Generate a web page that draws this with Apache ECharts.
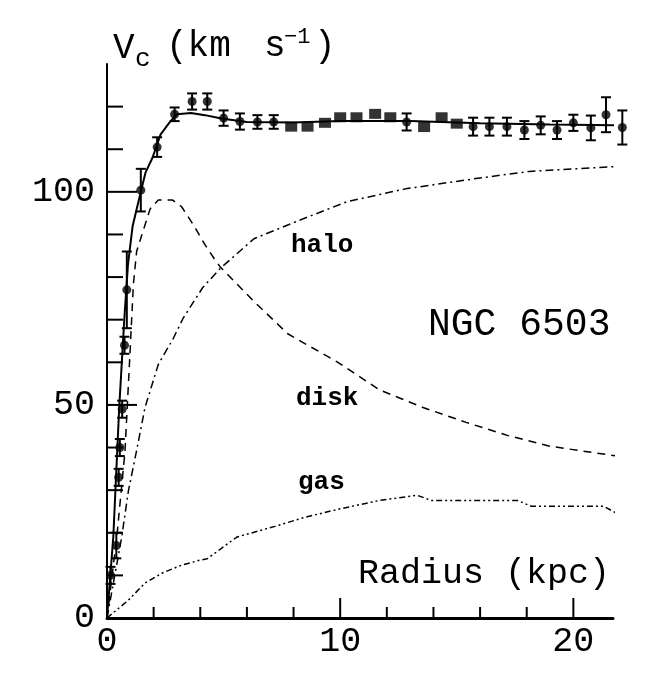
<!DOCTYPE html>
<html>
<head>
<meta charset="utf-8">
<title>NGC 6503 rotation curve</title>
<script src="https://cdn.jsdelivr.net/npm/echarts@6/dist/echarts.min.js"></script>
<style>
  html, body { margin: 0; padding: 0; background: #fff; }
  #main { width: 663px; height: 682px; }
</style>
</head>
<body>
<div id="main"></div>
<script>
// observed rotation velocities (kpc, km/s, error)
var obsX = [0.15, 0.4, 0.5, 0.55, 0.65, 0.75, 0.85, 1.45, 2.15, 2.9, 3.65, 4.3, 5.0, 5.7, 6.45, 7.15,
  7.9, 8.6, 9.35, 10.0, 10.7, 11.5, 12.15, 12.85, 13.6, 14.35, 15.0,
  15.7, 16.4, 17.15, 17.9, 18.6, 19.3, 20.0, 20.75, 21.4, 22.1];
var obsY = [10, 17, 33, 40, 49, 64, 77, 100.4, 110.5, 118.2, 121.2, 121.2, 117.3, 116.5, 116.4, 116.4,
  115.3, 115.3, 116.2, 117.5, 117.5, 118.3, 117.5, 116.4, 115.2, 117.5, 116.0,
  115.3, 115.3, 115.3, 114.5, 115.6, 114.5, 116.2, 115.0, 118.1, 115.1];
var obsErr = [2, 3, 2, 2, 2, 2, 9, 5, 2.3, 1.6, 1.9, 1.9, 1.8, 1.9, 1.6, 1.6,
  0, 0, 0, 0, 0, 0, 0, 2, 0, 0, 0,
  2.1, 2.1, 2.1, 2.1, 2.1, 2.1, 1.9, 2.9, 4.1, 4];

// model curves
var totalX = [0, 0.27, 0.52, 0.74, 0.9, 1.1, 1.45, 1.65, 1.95, 2.3, 2.7, 3.0, 3.6, 4.2, 4.9, 6, 8, 10, 13, 16, 19, 22.1];
var totalY = [0, 19, 49, 70, 83, 92, 100, 104.5, 108, 113.5, 116.4, 118.2, 118.5, 118, 117.2, 116.4, 116.3, 116.6, 116.6, 116.1, 115.8, 115.6];

var haloX = [0, 0.3, 0.63, 0.92, 1.27, 1.63, 2.2, 2.85, 3.27, 4.1, 4.85, 6.3, 8.1, 10.3, 12.8, 15.4, 18.1, 22.05];
var haloY = [0, 9, 19, 29.9, 39.3, 49.4, 59.5, 65.7, 70.4, 77.5, 82, 89, 93, 97.7, 100.7, 102.8, 104.8, 106];

var diskX = [0, 0.42, 0.77, 0.99, 1.13, 1.27, 1.5, 1.85, 2.2, 2.8, 3.2, 3.7, 4.2, 4.6, 4.85, 6.3, 7.75, 9.9, 11.7, 13.55, 15.4, 17.2, 19.0, 22.0];
var diskY = [0, 19, 39, 62.6, 78.2, 86, 90, 96, 98.1, 98.1, 96.5, 92.3, 87.6, 84.3, 82.4, 74.3, 66.7, 60, 53.5, 49.4, 45.9, 42.8, 40.3, 37.9];

var gasX = [0, 0.92, 1.63, 2.35, 3.2, 4.0, 4.3, 5.57, 7.2, 8.47, 9.9, 11.7, 13.3, 13.9, 17.6, 18.2, 21.3, 22.05];
var gasY = [0, 4.2, 8.2, 10.5, 12.4, 13.6, 13.9, 19, 21.5, 23.6, 25.5, 27.6, 28.8, 27.6, 27.6, 26.2, 26.2, 24];

// axis ticks and labels
var xMinorTicks = [2, 4, 6, 8, 12, 14, 16, 18];
var xMajorTicks = [10, 20];
var yMinorTicks = [10, 20, 30, 40, 60, 70, 80, 90, 110, 120];
var yMajorTicks = [50, 100];
var xTickLabels = [0, 10, 20];
var yTickLabels = [0, 50, 100];

var FONT = 'Liberation Mono';

function pairs(xs, ys) {
  return xs.map(function (x, i) { return [x, ys[i]]; });
}

var tickData = [];
xMinorTicks.forEach(function (v) { tickData.push([0, v, 0]); });
xMajorTicks.forEach(function (v) { tickData.push([0, v, 1]); });
yMinorTicks.forEach(function (v) { tickData.push([1, v, 0]); });
yMajorTicks.forEach(function (v) { tickData.push([1, v, 1]); });

var barData = [], dotData = [], squareData = [];
obsX.forEach(function (x, i) {
  if (obsErr[i] > 0) {
    barData.push([x, obsY[i], obsErr[i]]);
    dotData.push([x, obsY[i]]);
  } else {
    squareData.push([x, obsY[i]]);
  }
});

function renderTick(params, api) {
  var dir = api.value(0), v = api.value(1), major = api.value(2);
  if (dir === 0) {
    var p = api.coord([v, 0]);
    var len = major ? 20 : 11;
    return { type: 'line', shape: { x1: p[0], y1: p[1], x2: p[0], y2: p[1] - len },
      style: { stroke: '#000', lineWidth: 2 } };
  }
  var q = api.coord([0, v]);
  var lenY = major ? 30 : 16;
  return { type: 'line', shape: { x1: q[0], y1: q[1], x2: q[0] + lenY, y2: q[1] },
    style: { stroke: '#000', lineWidth: 2 } };
}

function renderBar(params, api) {
  var x = api.value(0), y = api.value(1), e = api.value(2);
  var top = api.coord([x, y + e]);
  var bot = api.coord([x, y - e]);
  var w = 5;
  var st = { stroke: '#000', lineWidth: 2 };
  return { type: 'group', children: [
    { type: 'line', shape: { x1: top[0], y1: top[1], x2: bot[0], y2: bot[1] }, style: st },
    { type: 'line', shape: { x1: top[0] - w, y1: top[1], x2: top[0] + w, y2: top[1] }, style: st },
    { type: 'line', shape: { x1: bot[0] - w, y1: bot[1], x2: bot[0] + w, y2: bot[1] }, style: st }
  ] };
}

function modelLine(name, xs, ys, type, width) {
  return {
    name: name, type: 'line', data: pairs(xs, ys), symbol: 'none', clip: false,
    lineStyle: { color: '#000', width: width, type: type }
  };
}

var chart = echarts.init(document.getElementById('main'), null, { renderer: 'canvas' });

var option = {
  animation: false,
  backgroundColor: '#fff',
  grid: { left: 107, right: 50, top: 64, bottom: 64, containLabel: false },
  xAxis: {
    type: 'value', min: 0, max: 21.7, interval: 2,
    axisLine: { lineStyle: { color: '#000', width: 3 } },
    axisTick: { show: false },
    splitLine: { show: false },
    axisLabel: {
      color: '#000', fontFamily: FONT, fontSize: 35, margin: 6,
      formatter: function (v) { return xTickLabels.indexOf(v) >= 0 ? String(v) : ''; }
    }
  },
  yAxis: {
    type: 'value', min: 0, max: 130, interval: 10,
    axisLine: { lineStyle: { color: '#000', width: 2 } },
    axisTick: { show: false },
    splitLine: { show: false },
    axisLabel: {
      color: '#000', fontFamily: FONT, fontSize: 35, margin: 12,
      formatter: function (v) { return yTickLabels.indexOf(v) >= 0 ? String(v) : ''; }
    }
  },
  graphic: [
    { type: 'text', x: 113, y: 30, style: { text: 'V', fontFamily: FONT, fontSize: 36, fill: '#000' } },
    { type: 'text', x: 135, y: 46, style: { text: 'c', fontFamily: FONT, fontSize: 26, fill: '#000' } },
    { type: 'text', x: 166, y: 28, style: { text: '(km', fontFamily: FONT, fontSize: 36, fill: '#000' } },
    { type: 'text', x: 264, y: 28, style: { text: 's', fontFamily: FONT, fontSize: 36, fill: '#000' } },
    { type: 'text', x: 284, y: 26, style: { text: '\u22121', fontFamily: FONT, fontSize: 22, fill: '#000' } },
    { type: 'text', x: 314, y: 28, style: { text: ')', fontFamily: FONT, fontSize: 36, fill: '#000' } },
    { type: 'text', x: 428, y: 306, style: { text: 'NGC 6503', fontFamily: FONT, fontSize: 38, fill: '#000' } },
    { type: 'text', x: 358, y: 556, style: { text: 'Radius (kpc)', fontFamily: FONT, fontSize: 35, fill: '#000' } },
    { type: 'text', x: 291, y: 232, style: { text: 'halo', fontFamily: FONT, fontSize: 26, fontWeight: 'bold', fill: '#000' } },
    { type: 'text', x: 296, y: 385, style: { text: 'disk', fontFamily: FONT, fontSize: 26, fontWeight: 'bold', fill: '#000' } },
    { type: 'text', x: 298, y: 469, style: { text: 'gas', fontFamily: FONT, fontSize: 26, fontWeight: 'bold', fill: '#000' } }
  ],
  series: [
    { name: 'ticks', type: 'custom', data: tickData, renderItem: renderTick, silent: true },
    modelLine('halo', haloX, haloY, [8, 4, 2, 4], 1.5),
    modelLine('disk', diskX, diskY, [8, 6], 1.5),
    modelLine('gas', gasX, gasY, [6, 3, 2, 3, 2, 3], 1.5),
    modelLine('total', totalX, totalY, 'solid', 2),
    { name: 'errors', type: 'custom', data: barData, renderItem: renderBar, clip: false },
    { name: 'obs', type: 'scatter', data: dotData, symbol: 'circle', symbolSize: 9, clip: false,
      itemStyle: { color: '#000' } },
    { name: 'obs2', type: 'scatter', data: squareData, symbol: 'rect', symbolSize: [12, 10], clip: false,
      itemStyle: { color: '#000' } }
  ]
};

chart.setOption(option);
</script>
</body>
</html>
